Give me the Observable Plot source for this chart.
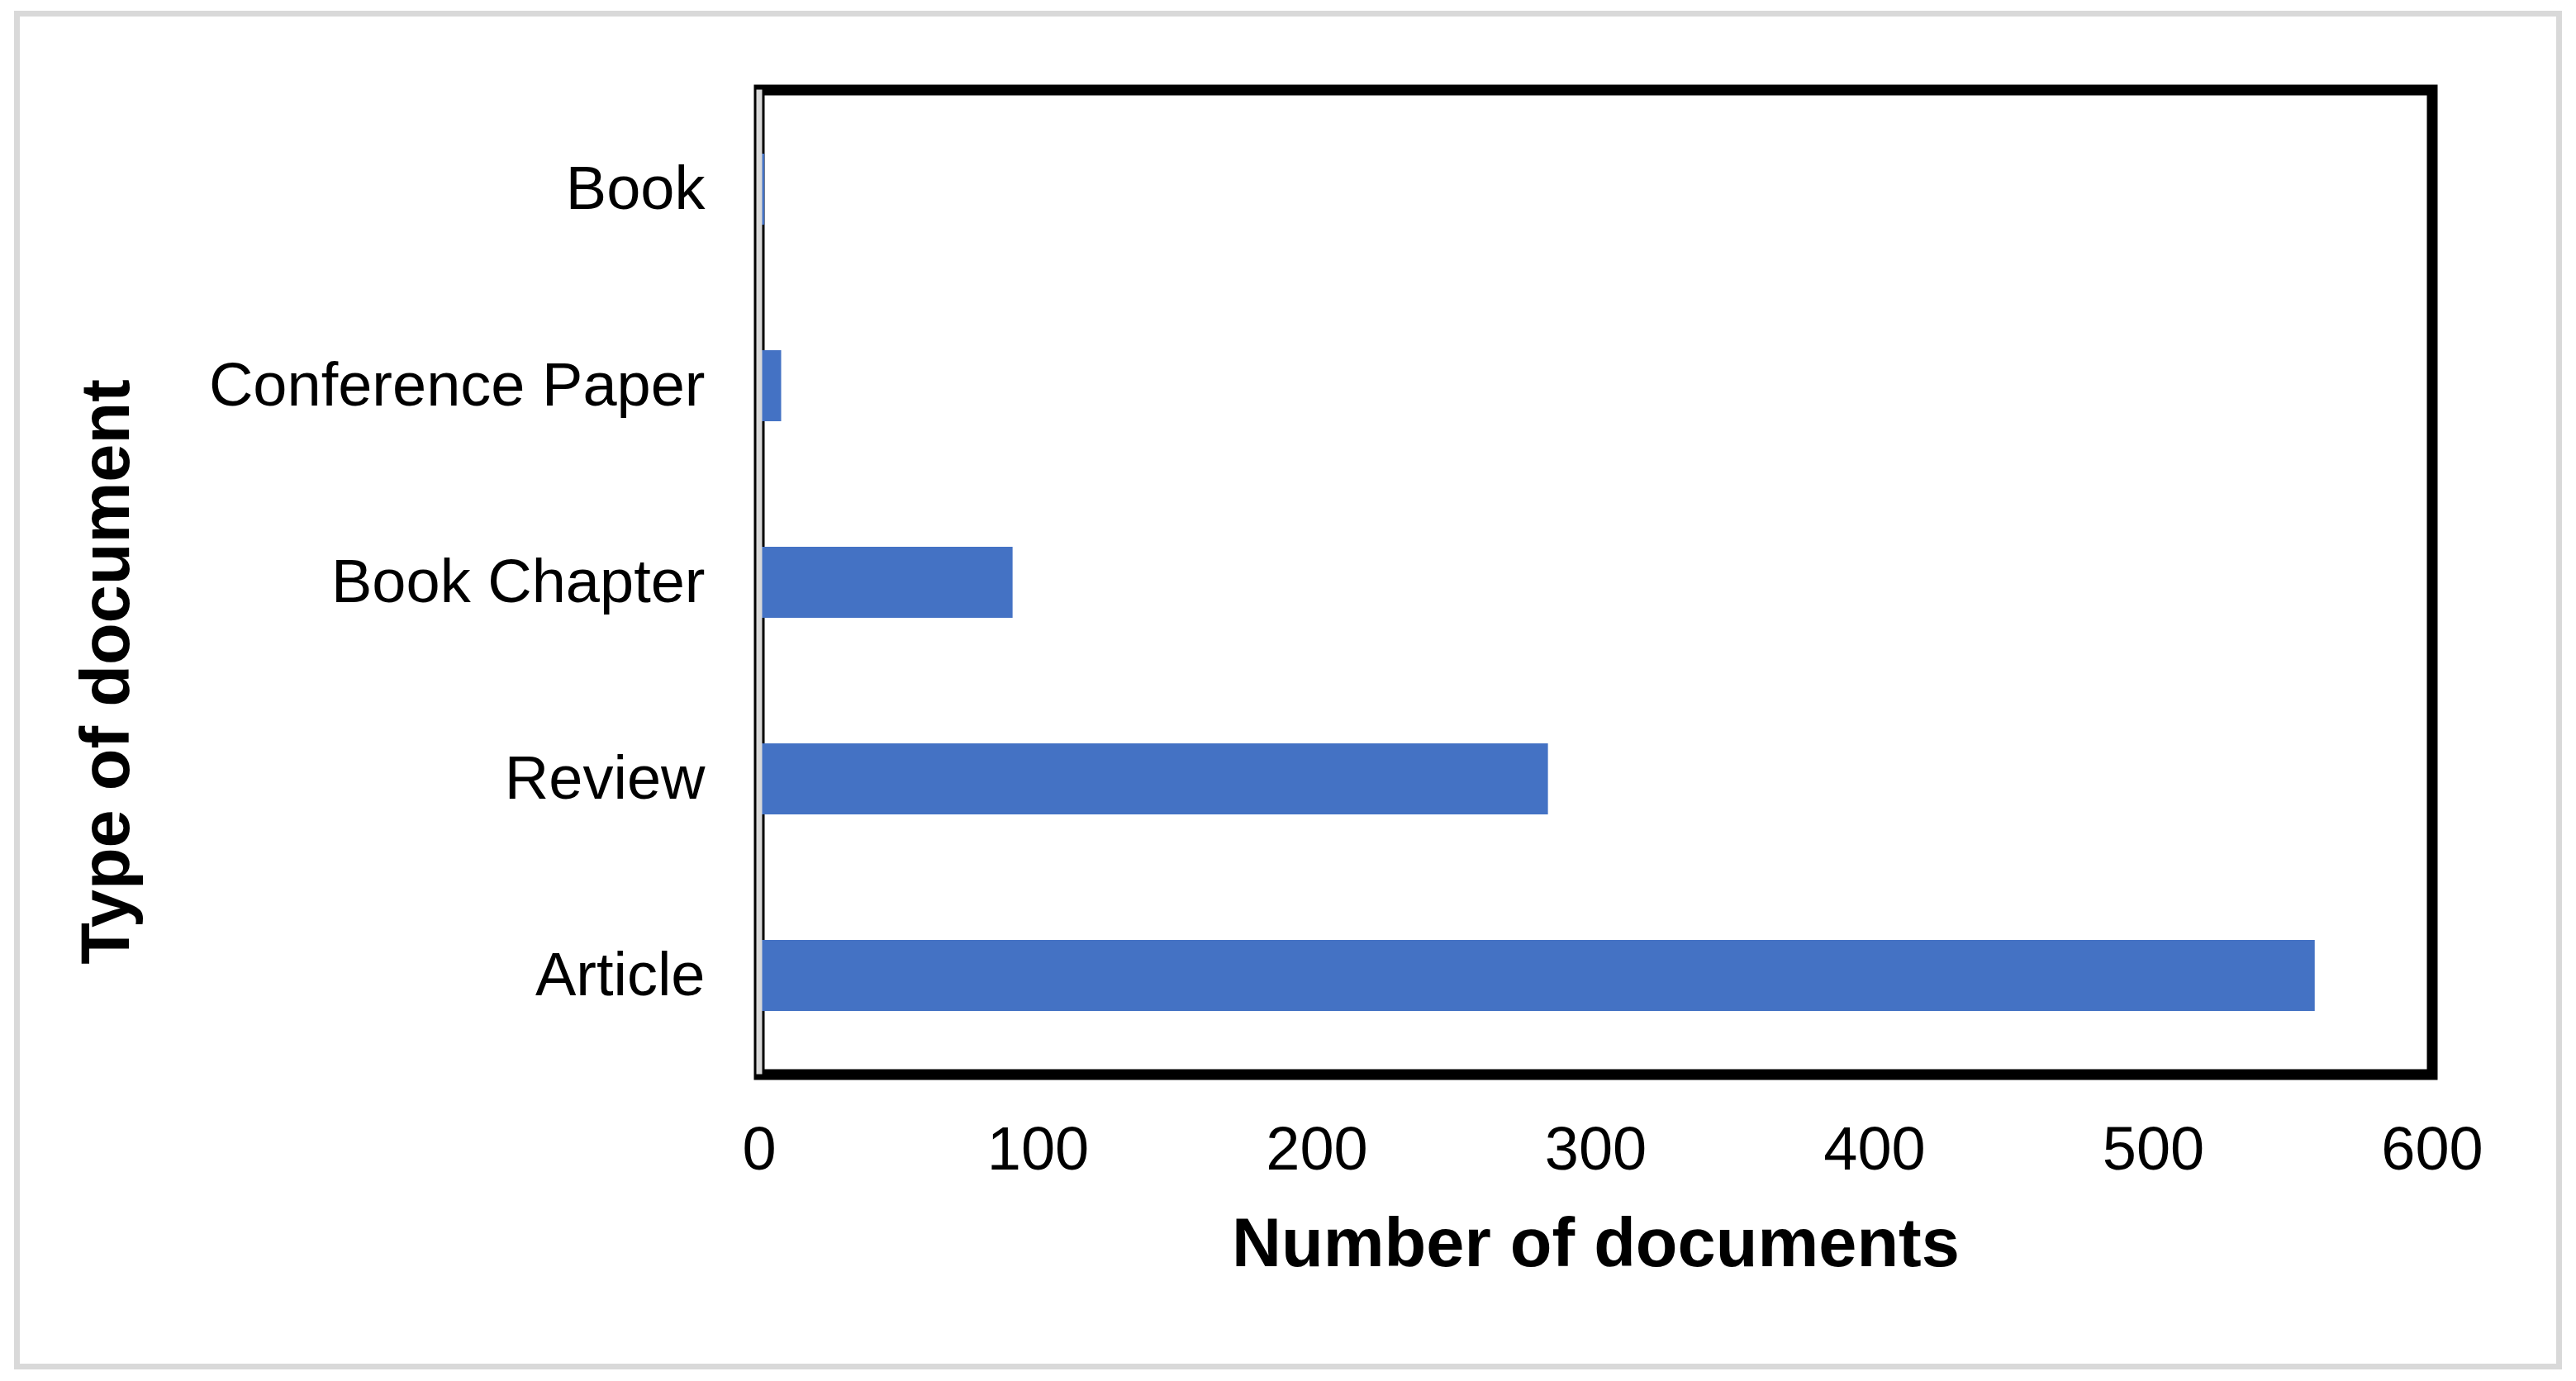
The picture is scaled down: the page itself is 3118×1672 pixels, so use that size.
<!DOCTYPE html>
<html>
<head>
<meta charset="utf-8">
<script src="https://cdn.jsdelivr.net/npm/d3@7"></script>
<script src="https://cdn.jsdelivr.net/npm/@observablehq/plot@0.6"></script>
<style>
  html, body { margin: 0; padding: 0; background: #fff; }
  #wrap { position: relative; width: 3118px; height: 1672px; }
  #border { position: absolute; left: 17px; top: 13px; width: 3084px; height: 1645px;
            border: 7px solid #d9d9d9; box-sizing: border-box; pointer-events: none; }
  #chart { position: absolute; left: 0; top: 0; }
</style>
</head>
<body>
<div id="wrap"><div id="chart"></div><div id="border"></div></div>
<script>
const categories = ["Book", "Conference Paper", "Book Chapter", "Review", "Article"];
const counts = [2, 8, 91, 283, 558];
const xTicks = [0, 100, 200, 300, 400, 500, 600];
const xTitle = "Number of documents";
const yTitle = "Type of document";

const data = categories.map((c, i) => ({type: c, value: counts[i]}));
const font = "'Liberation Sans', Arial, sans-serif";

const chart = Plot.plot({
  width: 3118,
  height: 1672,
  marginLeft: 918.5,
  marginRight: 174.5,
  marginTop: 108.5,
  marginBottom: 371.5,
  style: {fontFamily: font, background: "transparent", color: "black", overflow: "visible"},
  x: {domain: [0, 600], ticks: xTicks},
  y: {domain: categories, paddingInner: 0.64, paddingOuter: 0.32},
  marks: [
    Plot.frame({stroke: "black", strokeWidth: 13}),
    Plot.barX(data, {x: "value", y: "type", fill: "#4472c4"}),
    Plot.ruleX([0], {stroke: "#d9d9d9", strokeWidth: 7}),
    Plot.axisY({tickSize: 0, tickPadding: 65.5, fontSize: 74, label: null, fill: "black"}),
    Plot.axisX({ticks: xTicks, tickSize: 0, tickPadding: 62, fontSize: 74, label: null, fill: "black"}),
    Plot.text([xTitle], {text: d => d, frameAnchor: "bottom", textAnchor: "middle", lineAnchor: "middle",
      dy: 205, fontSize: 83, fontWeight: "bold", fill: "black"}),
    Plot.text([yTitle], {text: d => d, frameAnchor: "left", textAnchor: "middle", lineAnchor: "middle",
      rotate: -90, dx: -789.5, dy: 108.5, fontSize: 83, fontWeight: "bold", fill: "black"})
  ]
});
document.getElementById("chart").appendChild(chart);
</script>
</body>
</html>
